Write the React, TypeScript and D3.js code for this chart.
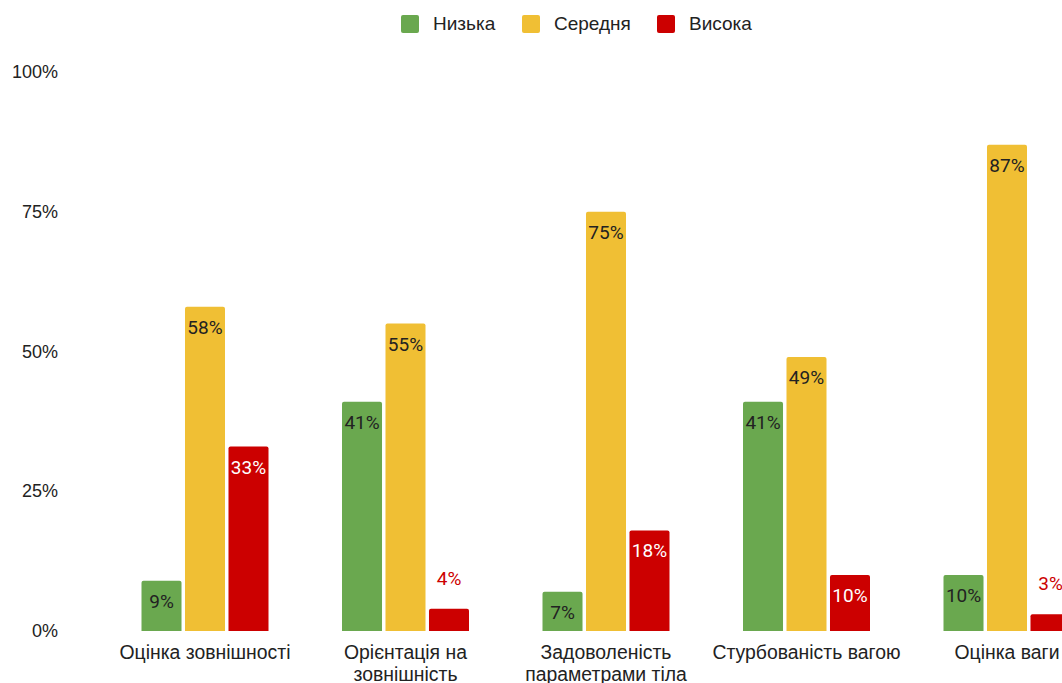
import { scaleBand, scaleLinear } from "d3";

const categories = [
  ["Оцінка зовнішності"],
  ["Орієнтація на", "зовнішність"],
  ["Задоволеність", "параметрами тіла"],
  ["Стурбованість вагою"],
  ["Оцінка ваги"],
];
const seriesNames = ["Низька", "Середня", "Висока"];
const seriesColors = ["#6aa84f", "#f0bf34", "#cc0000"];
const lowValues = [9, 41, 7, 41, 10];
const midValues = [58, 55, 75, 49, 87];
const highValues = [33, 4, 18, 10, 3];
const yTicks = [0, 25, 50, 75, 100];

const width = 1062;
const height = 683;

const topBar = (x, y, w, h, r) =>
  `M${x},${y + h}V${y + r}Q${x},${y} ${x + r},${y}H${x + w - r}Q${x + w},${y} ${x + w},${y + r}V${y + h}Z`;

const App = () => {
  const values = [lowValues, midValues, highValues];
  const keys = categories.map((c) => c.join(" "));

  const yScale = scaleLinear().domain([0, 100]).range([631, 72]);
  const xScale = scaleBand().domain(keys).range([104.75, 1107.25]);
  const inner = scaleBand()
    .domain(seriesNames)
    .range([-63.5, 63.5])
    .paddingInner(0.08);

  const legendX = [401, 522, 657];

  return (
    <svg
      width={width}
      height={height}
      style={{ position: "absolute", left: 0, top: 0, background: "#fff" }}
    >
      {seriesNames.map((s, i) => (
        <g key={s} transform={`translate(${legendX[i]}, 15)`}>
          <rect width={18} height={18} rx={2} fill={seriesColors[i]} />
          <text
            x={32}
            y={15}
            fontSize={19}
            fontFamily="Liberation Sans, Arial, sans-serif"
            fill="#222"
          >
            {s}
          </text>
        </g>
      ))}

      {yTicks.map((t) => (
        <text
          key={t}
          x={58}
          y={yScale(t) + 6}
          fontSize={18}
          textAnchor="end"
          fontFamily="Liberation Sans, Arial, sans-serif"
          fill="#222"
        >
          {t}%
        </text>
      ))}

      {keys.map((k, ci) => {
        const cx = xScale(k) + xScale.bandwidth() / 2;
        return (
          <g key={k} transform={`translate(${cx}, 0)`}>
            {seriesNames.map((s, si) => {
              const v = values[si][ci];
              const x = inner(s);
              const y = yScale(v);
              const h = yScale(0) - y;
              const outside = v < 5;
              return (
                <g key={s}>
                  <path d={topBar(x, y, inner.bandwidth(), h, 2)} fill={seriesColors[si]} />
                  <text
                    x={x + inner.bandwidth() / 2}
                    y={outside ? y - 24 : y + 27}
                    textAnchor="middle"
                    fontSize={19}
                    fontFamily="Roboto, sans-serif"
                    fill={outside ? "#cc0000" : si === 2 ? "#fff" : "#222"}
                  >
                    {v}%
                  </text>
                </g>
              );
            })}
            {categories[ci].map((line, li) => (
              <text
                key={li}
                x={0}
                y={659 + li * 22}
                textAnchor="middle"
                fontSize={19.4}
                fontFamily="Liberation Sans, Arial, sans-serif"
                fill="#222"
              >
                {line}
              </text>
            ))}
          </g>
        );
      })}
    </svg>
  );
};

export default App;
